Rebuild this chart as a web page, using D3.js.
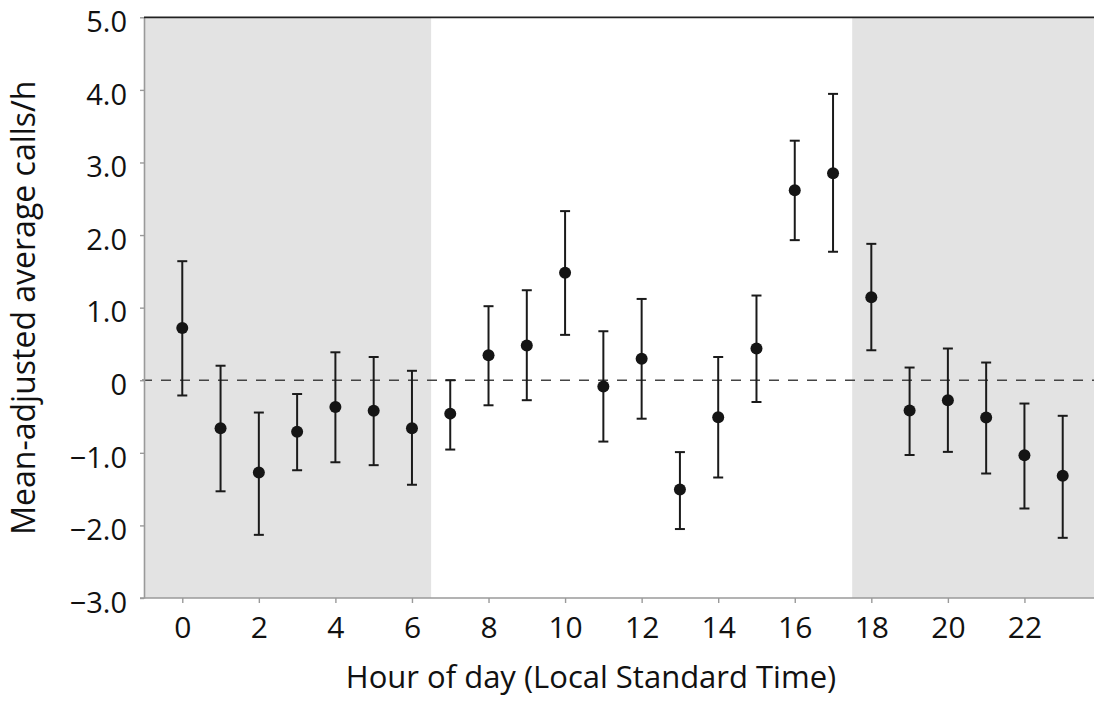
<!DOCTYPE html>
<html>
<head>
<meta charset="utf-8">
<script src="https://cdn.jsdelivr.net/npm/d3@7"></script>
<style>
  html, body { margin: 0; padding: 0; background: #fff; }
  svg { display: block; font-family: "Open Sans", "Noto Sans", sans-serif; }
</style>
</head>
<body>
<svg id="chart" width="1094" height="704"></svg>
<script>
// ---------- data ----------
const hours = [0, 1, 2, 3, 4, 5, 6, 7, 8, 9, 10, 11, 12, 13, 14, 15, 16, 17, 18, 19, 20, 21, 22, 23];
const means = [0.72, -0.66, -1.27, -0.71, -0.37, -0.42, -0.66, -0.46, 0.345, 0.48, 1.48, -0.087, 0.295, -1.505,
               -0.51, 0.437, 2.617, 2.85, 1.143, -0.417, -0.275, -0.514, -1.033, -1.317];
const upper = [1.64, 0.20, -0.445, -0.19, 0.385, 0.32, 0.13, 0.0, 1.02, 1.24, 2.33, 0.675, 1.12, -0.99,
               0.32, 1.167, 3.30, 3.945, 1.879, 0.175, 0.437, 0.244, -0.321, -0.49];
const lower = [-0.21, -1.53, -2.13, -1.24, -1.13, -1.17, -1.44, -0.955, -0.345, -0.275, 0.625, -0.845, -0.53, -2.05,
               -1.34, -0.30, 1.93, 1.77, 0.413, -1.03, -0.987, -1.285, -1.767, -2.171];
const nightBands = [[-1, 6.5], [17.5, 24]];
const xTicks = [0, 2, 4, 6, 8, 10, 12, 14, 16, 18, 20, 22];
const yTicks = [-3, -2, -1, 0, 1, 2, 3, 4, 5];

const rows = hours.map((h, i) => ({ h, m: means[i], hi: upper[i], lo: lower[i] }));

// ---------- layout ----------
const svg = d3.select("#chart");
const plotTop = 17.3, plotBottom = 598;

const x = d3.scaleLinear().domain([-1, 24]).range([144, 1101]);
const y = d3.scaleLinear().domain([-3, 5]).range([plotBottom, plotTop]);

// shaded night hours
svg.selectAll("rect.night")
  .data(nightBands)
  .enter()
  .append("rect")
  .attr("class", "night")
  .attr("x", d => x(d[0]))
  .attr("y", plotTop)
  .attr("width", d => x(d[1]) - x(d[0]))
  .attr("height", plotBottom - plotTop)
  .attr("fill", "#e3e3e3");

// zero reference line
svg.append("line")
  .attr("x1", x(-1) - 2)
  .attr("x2", 1094)
  .attr("y1", y(0))
  .attr("y2", y(0))
  .attr("stroke", "#444")
  .attr("stroke-width", 1.6)
  .attr("stroke-dasharray", "10,9");

// axes
const yAxis = d3.axisLeft(y)
  .tickValues(yTicks)
  .tickSize(4)
  .tickSizeOuter(0)
  .tickPadding(13)
  .tickFormat(d => d === 0 ? "0" : d3.format(".1f")(d));

const gy = svg.append("g")
  .attr("transform", `translate(${x(-1)},0)`)
  .call(yAxis);

const xAxis = d3.axisBottom(x)
  .tickValues(xTicks)
  .tickSize(5)
  .tickSizeOuter(0)
  .tickPadding(14);

const gx = svg.append("g")
  .attr("transform", `translate(0,${plotBottom})`)
  .call(xAxis);

[gx, gy].forEach(g => {
  g.select(".domain").attr("stroke", "#9a9a9a").attr("stroke-width", 1.6);
  g.selectAll(".tick line").attr("stroke", "#9a9a9a").attr("stroke-width", 1.4);
  g.selectAll(".tick text")
    .attr("fill", "#111")
    .style("font-family", "'Open Sans', sans-serif");
});
gx.selectAll(".tick text").style("font-size", "30px");
gy.selectAll(".tick text").style("font-size", "29px").attr("dy", "0.49em");
gx.select(".domain").attr("d", `M${x(-1) - 4},0H1094`);

// top border
svg.append("line")
  .attr("x1", x(-1))
  .attr("x2", 1094)
  .attr("y1", plotTop)
  .attr("y2", plotTop)
  .attr("stroke", "#222")
  .attr("stroke-width", 1.8);

// error bars
const bars = svg.append("g")
  .attr("stroke", "#1a1a1a")
  .attr("stroke-width", 2);

bars.selectAll("line.stem")
  .data(rows)
  .enter()
  .append("line")
  .attr("class", "stem")
  .attr("x1", d => x(d.h))
  .attr("x2", d => x(d.h))
  .attr("y1", d => y(d.hi))
  .attr("y2", d => y(d.lo));

["hi", "lo"].forEach(k => {
  bars.selectAll("line.cap-" + k)
    .data(rows)
    .enter()
    .append("line")
    .attr("class", "cap-" + k)
    .attr("x1", d => x(d.h) - 5)
    .attr("x2", d => x(d.h) + 5)
    .attr("y1", d => y(d[k]))
    .attr("y2", d => y(d[k]));
});

// points
svg.selectAll("circle.pt")
  .data(rows)
  .enter()
  .append("circle")
  .attr("class", "pt")
  .attr("cx", d => x(d.h))
  .attr("cy", d => y(d.m))
  .attr("r", 6)
  .attr("fill", "#151515");

// axis titles
svg.append("text")
  .attr("x", 591)
  .attr("y", 688)
  .attr("text-anchor", "middle")
  .attr("fill", "#111")
  .style("font-size", "31px")
  .text("Hour of day (Local Standard Time)");

svg.append("text")
  .attr("transform", `translate(35,${(plotTop + plotBottom) / 2}) rotate(-90)`)
  .attr("text-anchor", "middle")
  .attr("fill", "#111")
  .style("font-size", "32px")
  .text("Mean-adjusted average calls/h");
</script>
</body>
</html>
